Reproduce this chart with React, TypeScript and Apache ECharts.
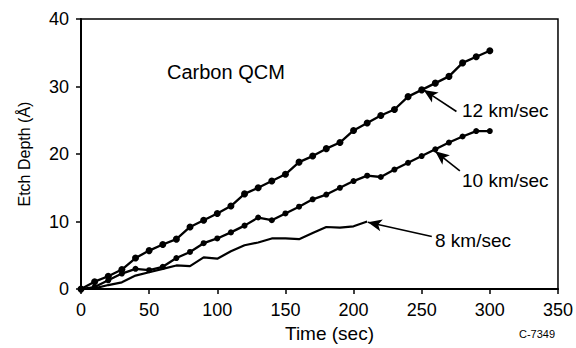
import React, { useEffect, useRef } from "react";
import * as echarts from "echarts";

const times = [0, 10, 20, 30, 40, 50, 60, 70, 80, 90, 100, 110, 120, 130, 140, 150, 160, 170, 180, 190, 200, 210, 220, 230, 240, 250, 260, 270, 280, 290, 300];
const depth12 = [0, 1.1, 1.9, 2.9, 4.6, 5.7, 6.6, 7.4, 9.2, 10.2, 11.2, 12.3, 14.1, 15.0, 16.0, 17.0, 18.8, 19.7, 20.8, 21.7, 23.5, 24.6, 25.7, 26.6, 28.5, 29.5, 30.5, 31.5, 33.5, 34.4, 35.3];
const depth10 = [0, 0.3, 1.3, 2.3, 3.0, 2.8, 3.3, 4.6, 5.5, 6.8, 7.5, 8.4, 9.4, 10.6, 10.2, 11.2, 12.2, 13.3, 14.0, 15.0, 16.0, 16.8, 16.6, 17.7, 18.7, 19.7, 20.7, 21.7, 22.6, 23.4, 23.4];
const depth8 = [0, 0.1, 0.6, 1.0, 2.0, 2.5, 3.0, 3.5, 3.4, 4.7, 4.5, 5.6, 6.5, 6.9, 7.5, 7.5, 7.4, 8.3, 9.2, 9.1, 9.3, 10.0];

const seriesNames = ["12 km/sec", "10 km/sec", "8 km/sec"];
// arrow [tail, tip] in data units
const arrows = [
  [[275.5, 26.3], [251.4, 29.5]],
  [[278, 17.5], [259.9, 20.4]],
  [[257.4, 7.8], [210.5, 9.9]],
];

const FONT = "'Liberation Sans', Arial, Helvetica, sans-serif";

export default function App() {
  const ref = useRef<HTMLDivElement>(null);
  useEffect(() => {
    if (!ref.current) return;
    const chart = echarts.init(ref.current, undefined, { renderer: "svg" });
    const pair = (arr: number[]) => arr.map((v, i) => [times[i], v]);
    const arrowLine = (a: number[][]) => ({
      silent: true,
      animation: false,
      symbol: ["none", "arrow"],
      symbolSize: [9, 14],
      lineStyle: { color: "#000", width: 1.6, type: "solid" },
      label: { show: false },
      data: [[{ coord: a[0] }, { coord: a[1] }]],
    });
    chart.setOption({
      animation: false,
      backgroundColor: "#fff",
      grid: { left: 81, right: 16, top: 19, bottom: 57, show: true, borderColor: "#000", borderWidth: 1.5 },
      xAxis: {
        type: "value",
        min: 0,
        max: 350,
        interval: 50,
        name: "Time (sec)",
        nameLocation: "middle",
        nameGap: 33,
        nameTextStyle: { fontFamily: FONT, fontSize: 19, color: "#000", padding: [0, 0, 0, 20] },
        axisLine: { lineStyle: { color: "#000", width: 2 } },
        axisTick: { inside: false, length: 5, lineStyle: { color: "#000", width: 1.5 } },
        axisLabel: { fontFamily: FONT, fontSize: 18, color: "#000", margin: 12 },
        splitLine: { show: false },
      },
      yAxis: {
        type: "value",
        min: 0,
        max: 40,
        interval: 10,
        name: "Etch Depth (Å)",
        nameLocation: "middle",
        nameGap: 49,
        nameTextStyle: { fontFamily: FONT, fontSize: 16, color: "#000" },
        axisLine: { lineStyle: { color: "#000", width: 2 } },
        axisTick: { inside: false, length: 5, lineStyle: { color: "#000", width: 1.5 } },
        axisLabel: { fontFamily: FONT, fontSize: 18, color: "#000", margin: 12 },
        splitLine: { show: false },
      },
      series: [
        {
          name: seriesNames[0],
          type: "line",
          data: pair(depth12),
          symbol: "circle",
          symbolSize: 7,
          showAllSymbol: true,
          itemStyle: { color: "#000" },
          lineStyle: { color: "#000", width: 2.3 },
          markLine: arrowLine(arrows[0]),
        },
        {
          name: seriesNames[1],
          type: "line",
          data: pair(depth10),
          symbol: "circle",
          symbolSize: 6,
          showAllSymbol: true,
          itemStyle: { color: "#000" },
          lineStyle: { color: "#000", width: 2.3 },
          markLine: arrowLine(arrows[1]),
        },
        {
          name: seriesNames[2],
          type: "line",
          data: pair(depth8),
          symbol: "none",
          lineStyle: { color: "#000", width: 2.2 },
          markLine: arrowLine(arrows[2]),
        },
      ],
      graphic: [
        { type: "text", left: 167, top: 62, style: { text: "Carbon QCM", font: `20px ${FONT}`, fill: "#000" } },
        { type: "text", left: 462, top: 101, style: { text: seriesNames[0], font: `19px ${FONT}`, fill: "#000" } },
        { type: "text", left: 462, top: 171, style: { text: seriesNames[1], font: `19px ${FONT}`, fill: "#000" } },
        { type: "text", left: 435, top: 231, style: { text: seriesNames[2], font: `19px ${FONT}`, fill: "#000" } },
        { type: "text", left: 519, top: 328, style: { text: "C-7349", font: `11px ${FONT}`, fill: "#000" } },
      ],
    });
    return () => chart.dispose();
  }, []);
  return (
    <div
      ref={ref}
      style={{ position: "fixed", left: 0, top: 0, width: 576, height: 348, background: "#fff" }}
    />
  );
}
